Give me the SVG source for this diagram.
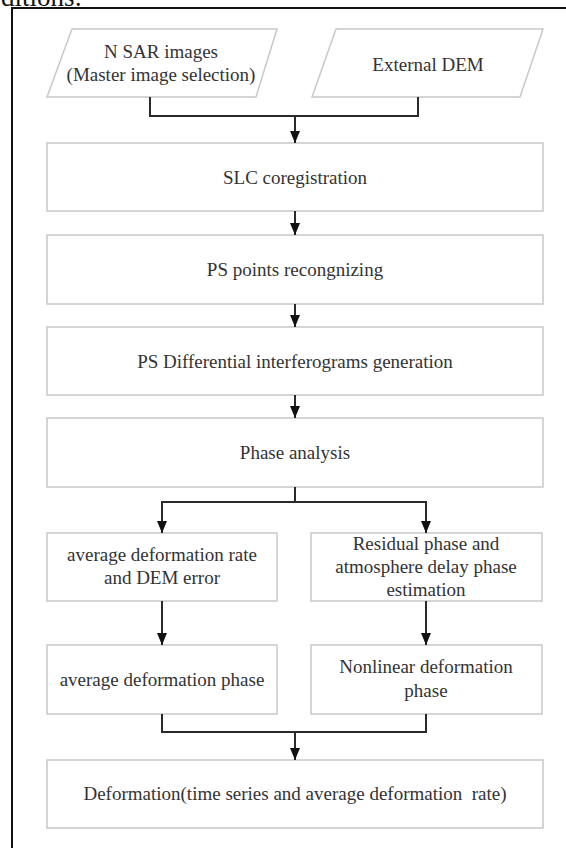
<svg xmlns="http://www.w3.org/2000/svg" width="566" height="848" viewBox="0 0 566 848">
<style>
.box{fill:#fff;stroke:#c8c8c8;stroke-width:1.5}
.t{font-family:'Liberation Serif','Times New Roman',serif;font-size:19px;fill:#333;text-anchor:middle}
.c{fill:none;stroke:#2a2a2a;stroke-width:2}
</style>
<defs>
<marker id="ah" markerWidth="12" markerHeight="10" refX="12" refY="5" orient="auto" markerUnits="userSpaceOnUse" viewBox="0 0 12 10">
<path d="M0,0 L12,5 L0,10 Z" fill="#111"/>
</marker>
</defs>
<rect width="566" height="848" fill="#fff"/>
<text x="1" y="6" font-family="'Liberation Serif', serif" font-size="27" fill="#111">ditions:</text>
<path d="M12,848 V8 H566" fill="none" stroke="#111" stroke-width="2"/>

<g id="n_sar">
<polygon class="box" points="72,29 277,29 256,97 47,97"/>
<text class="t" x="161" y="58">N SAR images</text>
<text class="t" x="161" y="81">(Master image selection)</text>
</g>
<g id="ext_dem">
<polygon class="box" points="336,29 543,29 520,97 312,97"/>
<text class="t" x="428" y="71">External DEM</text>
</g>
<g id="slc">
<rect class="box" x="47" y="143" width="496" height="68"/>
<text class="t" x="295" y="184">SLC coregistration</text>
</g>
<g id="ps_points">
<rect class="box" x="47" y="235" width="496" height="69"/>
<text class="t" x="295" y="276">PS points recongnizing</text>
</g>
<g id="ps_diff">
<rect class="box" x="47" y="327" width="496" height="68"/>
<text class="t" x="295" y="368">PS Differential interferograms generation</text>
</g>
<g id="phase">
<rect class="box" x="47" y="418" width="496" height="69"/>
<text class="t" x="295" y="459">Phase analysis</text>
</g>
<g id="avg_rate">
<rect class="box" x="47" y="533" width="230" height="68"/>
<text class="t" x="162" y="561">average deformation rate</text>
<text class="t" x="162" y="584">and DEM error</text>
</g>
<g id="residual">
<rect class="box" x="311" y="533" width="231" height="68"/>
<text class="t" x="426" y="550">Residual phase and</text>
<text class="t" x="426" y="573">atmosphere delay phase</text>
<text class="t" x="426" y="596">estimation</text>
</g>
<g id="avg_phase">
<rect class="box" x="47" y="645" width="230" height="69"/>
<text class="t" x="162" y="686">average deformation phase</text>
</g>
<g id="nonlinear">
<rect class="box" x="311" y="645" width="231" height="69"/>
<text class="t" x="426" y="673">Nonlinear deformation</text>
<text class="t" x="426" y="697">phase</text>
</g>
<g id="deformation">
<rect class="box" x="47" y="760" width="496" height="68"/>
<text class="t" x="295" y="800" xml:space="preserve">Deformation(time series and average deformation  rate)</text>
</g>

<g id="connectors">
<path class="c" d="M150,97 V116 H418 V97"/>
<path class="c" d="M295,116 V143" marker-end="url(#ah)"/>
<path class="c" d="M295,211 V235" marker-end="url(#ah)"/>
<path class="c" d="M295,304 V327" marker-end="url(#ah)"/>
<path class="c" d="M295,395 V418" marker-end="url(#ah)"/>
<path class="c" d="M295,487 V502 H162 V533" marker-end="url(#ah)"/>
<path class="c" d="M295,502 H426 V533" marker-end="url(#ah)"/>
<path class="c" d="M162,601 V645" marker-end="url(#ah)"/>
<path class="c" d="M426,601 V645" marker-end="url(#ah)"/>
<path class="c" d="M162,714 V732 H426 V714"/>
<path class="c" d="M295,732 V760" marker-end="url(#ah)"/>
</g>
</svg>
